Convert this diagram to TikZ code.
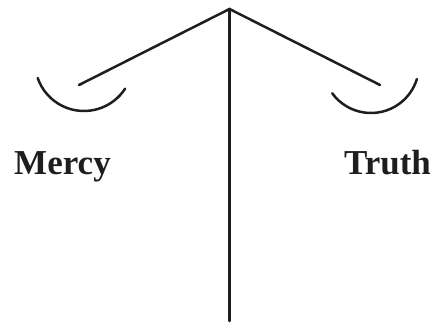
\documentclass[tikz,border=0pt]{standalone}
\usepackage{fontspec}
\setmainfont{Liberation Serif}
\usepackage{tikz}
\usetikzlibrary{positioning,calc}
\definecolor{ink}{HTML}{1E1E1E}
\tikzset{
  beam/.style={draw=ink,line width=2.5pt,line cap=round},
  pan/.style={beam},
  weight/.style={font=\fontsize{35}{40}\selectfont\bfseries,text=ink,inner sep=0pt,anchor=base},
}
\begin{document}
\begin{tikzpicture}[x=1pt,y=1pt]
  \useasboundingbox (0,0) rectangle (433,322);
  \coordinate (apex) at (229.5,313);
  \coordinate (foot) at (229.5,1);
  \coordinate (lend) at (79,237);
  \coordinate (rend) at (380,237);
  \draw[beam](apex)--(foot);
  \draw[beam](lend)--(apex)--(rend);
  % the two pans
  \draw[pan]($(84,260)+(199:49)$) arc[start angle=199,end angle=327,radius=49];
  \draw[pan]($(371,257)+(216:48)$) arc[start angle=216,end angle=343,radius=48];
  \node[weight](mercy) at (62.5,148){Mercy};
  \node[weight](truth) at (387.5,148){Truth};
\end{tikzpicture}
\end{document}
